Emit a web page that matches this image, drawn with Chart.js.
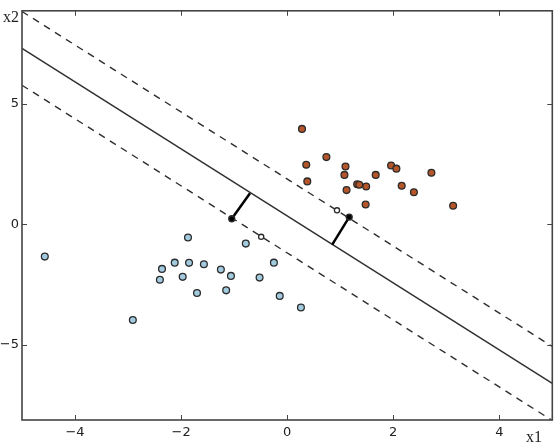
<!DOCTYPE html>
<html>
<head>
<meta charset="utf-8">
<script src="https://cdn.jsdelivr.net/npm/chart.js@4/dist/chart.umd.min.js"></script>
<style>
  html, body { margin: 0; padding: 0; background: #fff; }
  #wrap { width: 557px; height: 446px; }
</style>
</head>
<body>
<div id="wrap"><canvas id="svm"></canvas></div>
<script>
// class 1 (orange) points
const orangeX = [0.28, 0.74, 0.36, 1.10, 1.08, 0.38, 1.12, 1.32, 1.36, 1.49, 1.67, 1.96, 2.06, 2.16, 2.39, 2.72, 3.13, 1.48];
const orangeY = [3.96, 2.79, 2.47, 2.40, 2.05, 1.78, 1.42, 1.66, 1.64, 1.57, 2.05, 2.44, 2.31, 1.60, 1.33, 2.14, 0.77, 0.82];

// class 2 (blue) points
const blueX = [-4.57, -1.87, -0.78, -2.12, -1.85, -1.57, -2.36, -1.25, -1.06, -2.40, -1.97, -0.52, -0.25, -1.70, -1.15, -0.14, 0.26, -2.91];
const blueY = [-1.34, -0.55, -0.80, -1.59, -1.60, -1.66, -1.85, -1.88, -2.14, -2.30, -2.18, -2.21, -1.59, -2.85, -2.74, -2.97, -3.45, -3.97];

// points on the margins
const marginX = [0.94, -0.49];
const marginY = [0.58, -0.52];

// points with slack, and where their slack segments end
const slackX = [-1.045, 1.17];
const slackY = [0.23, 0.30];
const slackEndX = [-0.70, 0.85];
const slackEndY = [1.29, -0.84];

// decision boundary and margins, end points at x1 = -5 and x1 = 5
const lineX = [-5, 5];
const boundaryY = [7.30, -6.60];
const upperY = [8.83, -5.07];
const lowerY = [5.77, -8.14];

const xTicks = [-4, -2, 0, 2, 4];
const yTicks = [-5, 0, 5];

function pts(xs, ys) {
    return xs.map((x, i) => ({ x: x, y: ys[i] }));
}

let lineSets = [
    { data: pts(lineX, boundaryY), dash: [] },
    { data: pts(lineX, upperY), dash: [7, 6] },
    { data: pts(lineX, lowerY), dash: [7, 6] }
].map(l => ({
    data: l.data,
    showLine: true,
    borderColor: '#2e2e2e',
    borderWidth: 1.4,
    borderDash: l.dash,
    pointRadius: 0,
    order: 5
}));

let slackSets = slackX.map((x, i) => ({
    data: [{ x: x, y: slackY[i] }, { x: slackEndX[i], y: slackEndY[i] }],
    showLine: true,
    borderColor: '#000',
    borderWidth: 2.5,
    pointRadius: 0,
    order: 2
}));

function dots(data, fill, r) {
    return {
        data: data,
        backgroundColor: fill,
        borderColor: '#2b2b2b',
        borderWidth: 1.3,
        pointRadius: r,
        pointHoverRadius: r,
        order: 3
    };
}

// inward ticks on all four sides, plus the box and axis names
const frame = {
    id: 'frame',
    afterDraw(chart) {
        const c = chart.ctx;
        const a = chart.chartArea;
        const sx = chart.scales.x, sy = chart.scales.y;
        c.save();
        c.strokeStyle = '#444';
        c.lineWidth = 1.6;
        c.strokeRect(a.left, a.top, a.right - a.left, a.bottom - a.top);
        c.lineWidth = 1;
        c.beginPath();
        for (let v of xTicks) {
            let px = Math.round(sx.getPixelForValue(v)) + 0.5;
            c.moveTo(px, a.bottom); c.lineTo(px, a.bottom - 5);
            c.moveTo(px, a.top); c.lineTo(px, a.top + 5);
        }
        for (let v of yTicks) {
            let py = Math.round(sy.getPixelForValue(v)) + 0.5;
            c.moveTo(a.left, py); c.lineTo(a.left + 5, py);
            c.moveTo(a.right, py); c.lineTo(a.right - 5, py);
        }
        c.stroke();
        c.fillStyle = '#222';
        c.font = '16px "Liberation Serif"';
        c.textBaseline = 'alphabetic';
        c.textAlign = 'left';
        c.fillText('x2', 3, 22);
        c.fillText('x1', 526, 442);
        c.restore();
    }
};

var ctx = document.getElementById('svm').getContext('2d');
new Chart(ctx, {
    type: 'scatter',
    data: {
        datasets: [
            ...lineSets,
            ...slackSets,
            dots(pts(orangeX, orangeY), '#b4562a', 3.4),
            dots(pts(blueX, blueY), '#a3cbe0', 3.4),
            dots(pts(marginX, marginY), '#fff', 2.6),
            Object.assign(dots(pts(slackX, slackY), '#000', 3), { order: 1 })
        ]
    },
    options: {
        responsive: true,
        maintainAspectRatio: false,
        animation: false,
        layout: { padding: { left: 0, top: 7, right: 3, bottom: 0 } },
        plugins: {
            legend: { display: false },
            tooltip: { enabled: false }
        },
        scales: {
            x: {
                type: 'linear',
                min: -5,
                max: 5,
                afterBuildTicks: s => { s.ticks = xTicks.map(v => ({ value: v })); },
                afterFit: s => { s.height = 26; },
                grid: { display: false, drawTicks: false },
                border: { display: false },
                ticks: {
                    padding: 5,
                    color: '#222',
                    font: { family: 'DejaVu Sans', size: 13 },
                    callback: v => String(v).replace('-', '\u2212')
                }
            },
            y: {
                type: 'linear',
                min: -8.12,
                max: 8.86,
                afterBuildTicks: s => { s.ticks = yTicks.map(v => ({ value: v })); },
                afterFit: s => { s.width = 22; },
                grid: { display: false, drawTicks: false },
                border: { display: false },
                ticks: {
                    padding: 3,
                    color: '#222',
                    font: { family: 'DejaVu Sans', size: 13 },
                    callback: v => String(v).replace('-', '\u2212')
                }
            }
        }
    },
    plugins: [frame]
});
</script>
</body>
</html>
